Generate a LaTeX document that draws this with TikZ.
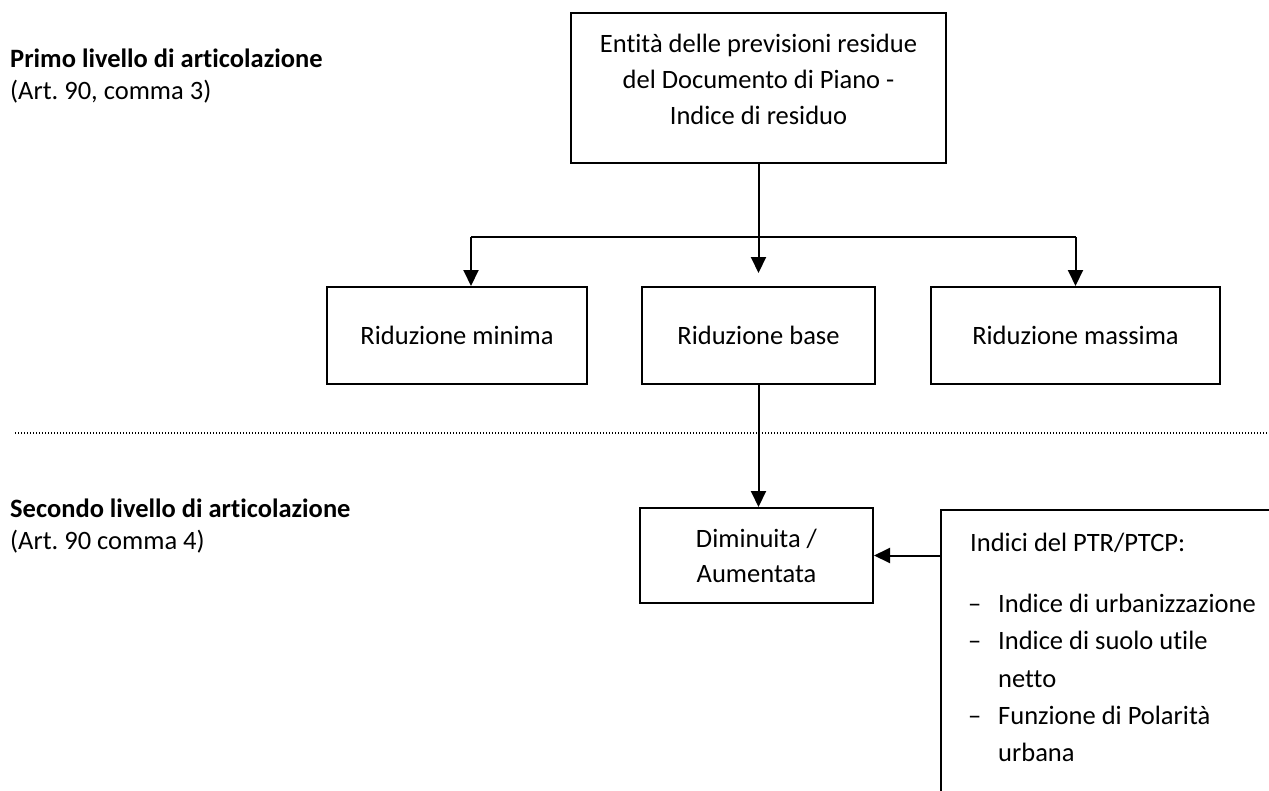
\documentclass[tikz,border=0pt]{standalone}
\usepackage{fontspec}
\setmainfont{Carlito}[Ligatures=NoCommon]
\usetikzlibrary{arrows.meta}
\frenchspacing
\begin{document}
\frenchspacing
\begin{tikzpicture}[x=1pt,y=-1pt,
  box/.style={draw,line width=2pt,rectangle,inner sep=0pt},
  txt/.style={font=\fontsize{26.5}{36}\selectfont,inner sep=0pt},
  lbl/.style={font=\fontsize{26.5}{34}\selectfont,inner sep=0pt,anchor=west},
  conn/.style={line width=2pt},
  arr/.style={line width=2pt,-{Triangle[length=16pt,width=15pt]}},
  sep/.style={line width=1.7pt,dash pattern=on 1.4pt off 1.6pt}]
\useasboundingbox (0,0) rectangle (1269,790);
% left labels
\node[lbl,font=\fontsize{26.5}{34}\selectfont\bfseries] (l1) at (10,58) {Primo livello di articolazione};
\node[lbl] (l2) at (10,92) {(Art. 90, comma 3)};
\node[lbl,font=\fontsize{26.5}{34}\selectfont\bfseries] (l3) at (10,508) {Secondo livello di articolazione};
\node[lbl] (l4) at (10,542) {(Art. 90 comma 4)};
% top box
\node[box,minimum width=375pt,minimum height=150pt] (top) at (758.5,88) {};
\node[txt,align=center] (toptext) at (758.5,79) {Entità delle previsioni residue\\del Documento di Piano -\\Indice di residuo};
% level boxes
\node[box,minimum width=260pt,minimum height=97pt,txt] (min) at (457,335.5) {Riduzione minima};
\node[box,minimum width=233pt,minimum height=97pt,txt] (base) at (758.5,335.5) {Riduzione base};
\node[box,minimum width=289pt,minimum height=97pt,txt] (max) at (1075.5,335.5) {Riduzione massima};
% connectors
\coordinate (jL) at (471,237);
\coordinate (jR) at (1075.5,237);
\coordinate (midtip) at (758.5,273);
\draw[arr] (top.south) -- (midtip);
\draw[conn] (jL) -- (jR);
\draw[arr] (jL) -- (jL |- min.north);
\draw[arr] (jR) -- (max.north);
% separator
\coordinate (s1) at (15,433);
\coordinate (s2) at (1269,433);
\draw[sep] (s1) -- (s2);
% second level
\node[box,minimum width=233pt,minimum height=95pt,txt,align=center,font=\fontsize{26.5}{35}\selectfont] (dim) at (756.5,555.5) {Diminuita /\\Aumentata};
\draw[arr] (base.south) -- (base.south |- dim.north);
\node[box,minimum width=360pt,minimum height=320pt,anchor=north west] (ind) at (940,509) {};
\draw[arr] (dim.east -| ind.west) -- (dim.east);
\node[txt,anchor=west] (indtitle) at (970,543) {Indici del PTR/PTCP:};
\node[txt,anchor=west,align=left,font=\fontsize{26.5}{37.3}\selectfont] (indlist) at (968,678) {%
\makebox[30pt][l]{–}Indice di urbanizzazione\\
\makebox[30pt][l]{–}Indice di suolo utile\\
\hspace*{30pt}netto\\
\makebox[30pt][l]{–}Funzione di Polarità\\
\hspace*{30pt}urbana};
\end{tikzpicture}
\end{document}
